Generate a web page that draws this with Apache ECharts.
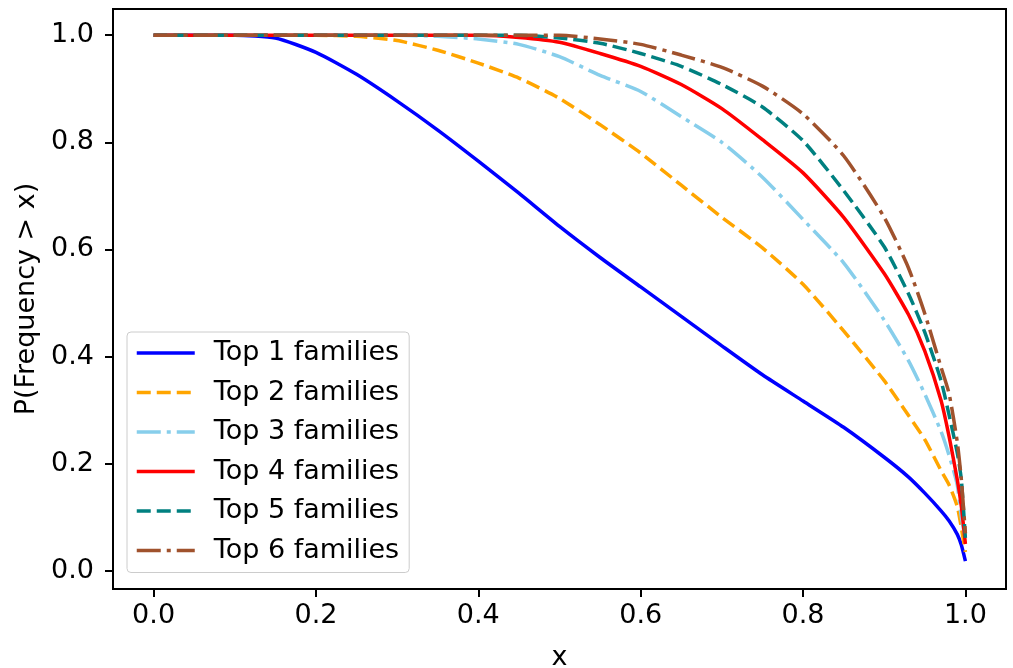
<!DOCTYPE html>
<html>
<head>
<meta charset="utf-8">
<script src="https://cdn.jsdelivr.net/npm/echarts@6/dist/echarts.min.js"></script>
<style>
  html, body { margin: 0; padding: 0; background: #fff; }
  #chart { width: 1013px; height: 668px; }
</style>
</head>
<body>
<div id="chart"></div>
<script>
// x positions shared by all curves
var xs = [0, 0.1, 0.15, 0.2, 0.25, 0.3, 0.35, 0.4, 0.45, 0.5, 0.55, 0.6, 0.65, 0.7, 0.75, 0.8, 0.85, 0.9, 0.93, 0.95, 0.97, 0.98, 0.99, 0.995, 1.0];

// P(Frequency > x)
var top1 = [1, 1, 0.995, 0.968, 0.927, 0.877, 0.823, 0.765, 0.705, 0.643, 0.585, 0.53, 0.475, 0.42, 0.366, 0.317, 0.268, 0.212, 0.175, 0.145, 0.112, 0.093, 0.068, 0.048, 0.018];
var top2 = [1, 1, 1, 1, 0.998, 0.99, 0.972, 0.948, 0.92, 0.882, 0.833, 0.78, 0.72, 0.66, 0.603, 0.535, 0.448, 0.355, 0.29, 0.245, 0.187, 0.16, 0.12, 0.08, 0.035];
var top3 = [1, 1, 1, 1, 1, 1, 0.998, 0.993, 0.983, 0.96, 0.925, 0.895, 0.848, 0.8, 0.735, 0.656, 0.575, 0.468, 0.392, 0.33, 0.26, 0.215, 0.16, 0.1, 0.06];
var top4 = [1, 1, 1, 1, 1, 1, 1, 1, 0.996, 0.987, 0.966, 0.942, 0.908, 0.863, 0.805, 0.743, 0.66, 0.555, 0.478, 0.41, 0.318, 0.25, 0.17, 0.12, 0.05];
var top5 = [1, 1, 1, 1, 1, 1, 1, 1, 1, 0.995, 0.985, 0.966, 0.942, 0.908, 0.866, 0.803, 0.71, 0.605, 0.517, 0.445, 0.355, 0.29, 0.22, 0.17, 0.06];
var top6 = [1, 1, 1, 1, 1, 1, 1, 1, 1, 1, 0.993, 0.983, 0.963, 0.94, 0.905, 0.853, 0.775, 0.66, 0.565, 0.48, 0.38, 0.33, 0.24, 0.17, 0.07];

var names = ['Top 1 families', 'Top 2 families', 'Top 3 families', 'Top 4 families', 'Top 5 families', 'Top 6 families'];
var colors = ['#0000ff', '#ffa500', '#87ceeb', '#ff0000', '#008080', '#a0522d'];
var dashes = ['solid', [14, 6], [24, 6, 4, 6], 'solid', [14, 6], [24, 6, 4, 6]];
var tickVals = [0, 0.2, 0.4, 0.6, 0.8, 1.0];

var font = 'DejaVu Sans';
var fs = 27;
var curves = [top1, top2, top3, top4, top5, top6];

function pairs(ys) {
  return xs.map(function (x, i) { return [x, ys[i]]; });
}

var series = curves.map(function (ys, i) {
  return {
    name: names[i],
    type: 'line',
    data: pairs(ys),
    symbol: 'none',
    smooth: 0.2,
    lineStyle: { color: colors[i], width: 3.5, type: dashes[i] },
    itemStyle: { color: colors[i] },
    animation: false
  };
});

var myChart = echarts.init(document.getElementById('chart'));
var option = {
  animation: false,
  grid: {
    left: 113, right: 7, top: 9, bottom: 79,
    outerBoundsMode: 'none',
    show: true, borderColor: '#000', borderWidth: 2
  },
  legend: {
    orient: 'vertical',
    left: 127, top: 332,
    data: names,
    itemWidth: 58, itemHeight: 14, itemGap: 9.5,
    padding: [6, 10, 7, 8],
    borderColor: '#cccccc', borderWidth: 1, borderRadius: 4,
    backgroundColor: 'rgba(255,255,255,0.8)',
    itemStyle: { opacity: 0 },
    lineStyle: { width: 3.5 },
    textStyle: { fontFamily: font, fontSize: fs, color: '#000', lineHeight: 30, padding: [0, 0, 0, 14] }
  },
  xAxis: {
    type: 'value', min: -0.05, max: 1.05,
    name: 'x', nameLocation: 'middle', nameGap: 55,
    nameTextStyle: { fontFamily: font, fontSize: fs, color: '#000' },
    splitLine: { show: false },
    axisLine: { show: true, onZero: false, lineStyle: { color: '#000', width: 2 } },
    axisTick: { show: true, length: 8, lineStyle: { color: '#000', width: 2 }, customValues: tickVals },
    axisLabel: {
      fontFamily: font, fontSize: fs, color: '#000', margin: 13,
      customValues: tickVals,
      formatter: function (v) { return v.toFixed(1); }
    }
  },
  yAxis: {
    type: 'value', min: -0.034, max: 1.049,
    name: 'P(Frequency > x)', nameLocation: 'middle', nameGap: 70,
    nameTextStyle: { fontFamily: font, fontSize: fs, color: '#000' },
    splitLine: { show: false },
    axisLine: { show: true, onZero: false, lineStyle: { color: '#000', width: 2 } },
    axisTick: { show: true, length: 8, lineStyle: { color: '#000', width: 2 }, customValues: tickVals },
    axisLabel: {
      fontFamily: font, fontSize: fs, color: '#000', margin: 19,
      customValues: tickVals,
      formatter: function (v) { return v.toFixed(1); }
    }
  },
  series: series
};
myChart.setOption(option);
</script>
</body>
</html>
